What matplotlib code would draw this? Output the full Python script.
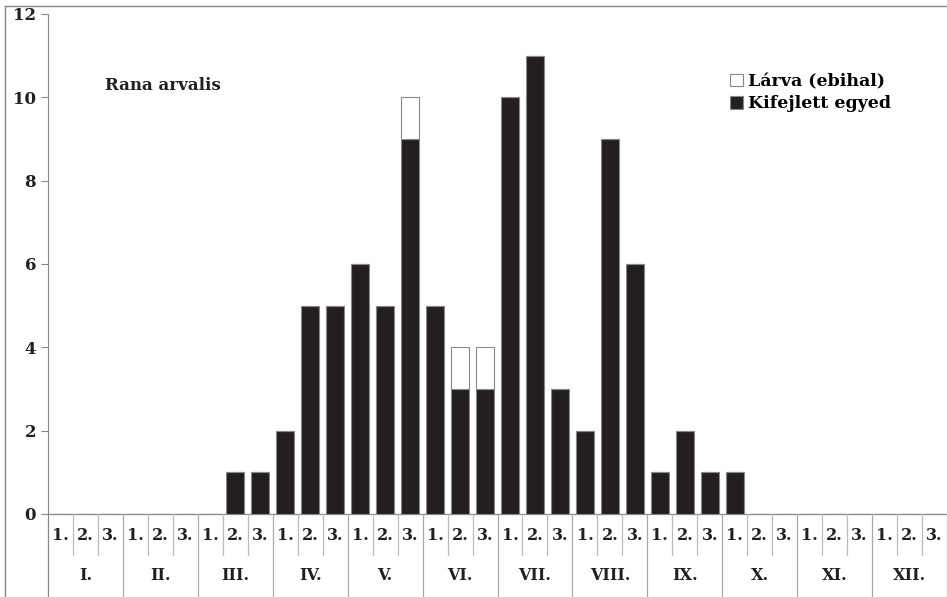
import matplotlib.pyplot as plt
import matplotlib.transforms as mtransforms
import numpy as np

months = ['I.', 'II.', 'III.', 'IV.', 'V.', 'VI.', 'VII.', 'VIII.', 'IX.', 'X.', 'XI.', 'XII.']
decades = ['1.', '2.', '3.']
# adults (Kifejlett egyed) per decade, I.1 .. XII.3
adult = [0, 0, 0,  0, 0, 0,  0, 1, 1,  2, 5, 5,
	6, 5, 9,  5, 3, 3,  10, 11, 3,  2, 9, 6,
	1, 2, 1,  1, 0, 0,  0, 0, 0,  0, 0, 0]
# larvae (Lárva / ebihal)
larva = [0, 0, 0,  0, 0, 0,  0, 0, 0,  0, 0, 0,
	0, 0, 1,  0, 1, 1,  0, 0, 0,  0, 0, 0,
	0, 0, 0,  0, 0, 0,  0, 0, 0,  0, 0, 0]

plt.rcParams['font.family'] = ['DejaVu Serif']
plt.rcParams['font.weight'] = 'bold'

fig = plt.figure(figsize=(9.47, 5.97), dpi=100)
W, H = 947, 597
ax = fig.add_axes([48 / W, 83 / H, 899 / W, 500 / H])

x = np.arange(len(adult))
adult = np.array(adult)
larva = np.array(larva)
ax.bar(x, adult, width=0.72, color='#231f20', edgecolor='#888888', linewidth=0.8,
	label='Kifejlett egyed', zorder=3)
lv = ax.bar(x, larva, width=0.72, bottom=adult, color='white', edgecolor='#888888',
	linewidth=0.8, label='Lárva (ebihal)', zorder=3)

ax.set_xlim(-0.5, len(adult) - 0.5)
ax.set_ylim(0, 12)
ax.set_yticks(range(0, 13, 2))
ax.set_xticks([])
for s in ['top', 'right', 'bottom']:
	ax.spines[s].set_visible(False)
ax.spines['left'].set_color('#888888')
ax.tick_params(axis='y', colors='#888888', labelcolor='#231f20', labelsize=12, length=5, width=0.8)
for t in ax.get_yticklabels():
	t.set_fontweight('bold')

# category table below the axis
tr = mtransforms.blended_transform_factory(ax.transData, ax.transAxes)
ax.plot([-0.5, len(adult) - 0.5], [0, 0], color='#888888', lw=0.9, transform=tr, clip_on=False)
ax.plot([-0.5, -0.5], [0, -0.166], color='#888888', lw=0.9, transform=tr, clip_on=False)
for i in range(1, len(adult) + 1):
	xe = i - 0.5
	if i % 3 == 0:
		ax.plot([xe, xe], [0, -0.166], color='#aaaaaa', lw=0.9, transform=tr, clip_on=False)
	else:
		ax.plot([xe, xe], [0, -0.082], color='#bbbbbb', lw=0.9, transform=tr, clip_on=False)
for i in range(len(adult)):
	ax.text(i, -0.042, decades[i % 3], transform=tr, ha='center', va='center',
		fontsize=11.5, fontweight='bold', color='#231f20')
for m, name in enumerate(months):
	ax.text(m * 3 + 1, -0.124, name, transform=tr, ha='center', va='center',
		fontsize=11.5, fontweight='bold', color='#231f20')

ax.text(0.063, 0.856, 'Rana arvalis', transform=ax.transAxes, ha='left', va='center',
	fontsize=12, fontweight='bold', color='#231f20')

leg = ax.legend(handles=[lv, ax.containers[0]], loc='upper left', bbox_to_anchor=(0.741, 0.913),
	frameon=False, handlelength=0.75, handleheight=0.75, handletextpad=0.3, labelspacing=0.3,
	prop={'size': 12.5, 'weight': 'bold'})

# outer frame of the chart (left and top)
fig.add_artist(plt.Line2D([5 / W, 5 / W], [0, 1 - 6 / H], color='#888888', lw=1))
fig.add_artist(plt.Line2D([5 / W, 1], [1 - 6 / H, 1 - 6 / H], color='#888888', lw=1))

fig.savefig('out.png', dpi=100)
